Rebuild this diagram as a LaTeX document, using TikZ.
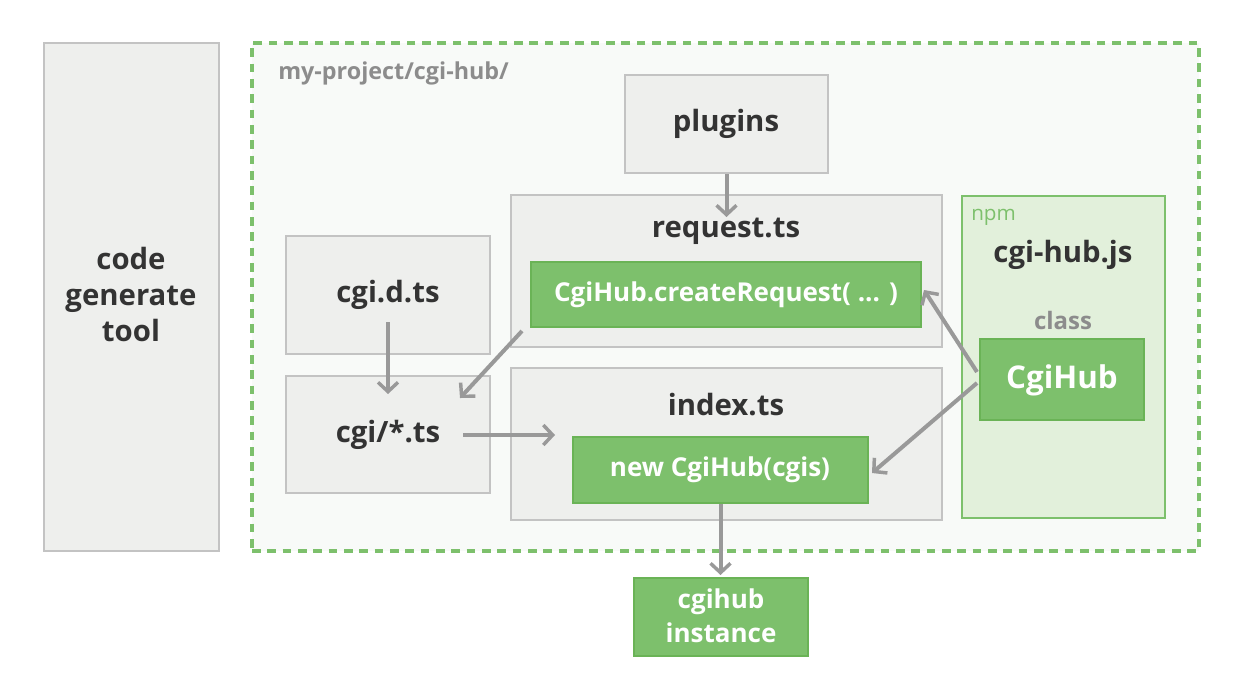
\documentclass[tikz,border=0pt]{standalone}
\usepackage{fontspec}
\setmainfont{Open Sans}
\usetikzlibrary{arrows.meta,fit,calc}
\definecolor{gfill}{HTML}{EEEFED}
\definecolor{gline}{HTML}{C3C3C3}
\definecolor{grn}{HTML}{7DC06C}
\definecolor{grnline}{HTML}{6AB356}
\definecolor{npmfill}{HTML}{E2F0DB}
\definecolor{outerfill}{HTML}{F8FAF8}
\definecolor{txt}{HTML}{333333}
\definecolor{arr}{HTML}{999999}
\definecolor{lbl}{HTML}{8C8C8C}
\tikzset{
  graybox/.style={draw=gline, fill=gfill, line width=1.5pt, inner sep=0pt},
  greenbox/.style={draw=grnline, fill=grn, line width=1.5pt, inner sep=0pt},
  gtxt/.style={text=txt, font=\bfseries\fontsize{22}{27}\selectfont, align=center, inner sep=0pt},
  wtxt/.style={text=white, font=\bfseries\fontsize{19.5}{25.5}\selectfont, align=center, inner sep=0pt},
  conn/.style={draw=arr, line width=3pt, -{Straight Barb[length=7pt,width=15pt,line width=2.6pt]}}
}
\begin{document}
\begin{tikzpicture}[x=0.75pt,y=-0.75pt]
\useasboundingbox (0,0) rectangle (1252,692);
\fill[white] (0,0) rectangle (1252,692);
% left box
\node[graybox, fit={(44,43)(219,551)}] (tool) {};
\node[gtxt] (toolt) at (131,294) {code\\generate\\tool};
% outer dashed
\node[draw=grn, fill=outerfill, line width=3pt, dash pattern=on 6.5pt off 5pt, inner sep=0pt, fit={(252,43)(1199,551)}] (proj) {};
\node[anchor=west, text=lbl, font=\bfseries\fontsize{17.5}{20}\selectfont, inner sep=0pt] (projlbl) at (278,73) {my-project/cgi-hub/};
% plugins
\node[graybox, fit={(625,75)(828,173)}] (plugins) {};
\node[gtxt] (pluginst) at (726,124) {plugins};
% request.ts
\node[graybox, fit={(511,195)(942,347)}] (req) {};
\node[gtxt] (reqt) at (726,231) {request.ts};
\node[greenbox, fit={(531,262)(921,327)}] (creq) {};
\node[wtxt] (creqt) at (726,295) {CgiHub.createRequest( ... )};
% cgi.d.ts and cgi/*.ts
\node[graybox, fit={(286,236)(490,354)}] (cgid) {};
\node[gtxt] (cgidt) at (388,295) {cgi.d.ts};
\node[graybox, fit={(286,376)(490,493)}] (cgis) {};
\node[gtxt] (cgist) at (388,435) {cgi/*.ts};
% index.ts
\node[graybox, fit={(511,368)(942,520)}] (idx) {};
\node[gtxt] (idxt) at (726,405) {index.ts};
\node[greenbox, fit={(573,437)(868,503)}] (newhub) {};
\node[wtxt] (newhubt) at (720,470) {new CgiHub(cgis)};
% npm
\node[draw=grn, fill=npmfill, line width=2.2pt, inner sep=0pt, fit={(962,196)(1165,518)}] (npm) {};
\node[anchor=west, text=grn, font=\fontsize{15.5}{18}\selectfont, inner sep=0pt] (npmlbl) at (971,217) {npm};
\node[gtxt] (hubjs) at (1063,255) {cgi-hub.js};
\node[text=lbl, font=\bfseries\fontsize{18}{21}\selectfont, inner sep=0pt] (cls) at (1063,320) {class};
\node[greenbox, fit={(980,339)(1144,420)}] (hub) {};
\node[wtxt, font=\bfseries\fontsize{23.5}{28}\selectfont] (hubt) at (1062,380) {CgiHub};
% instance
\node[greenbox, fit={(634,578)(808,656)}] (inst) {};
\node[wtxt] (instt) at (721,616) {cgihub\\instance};
% connectors
\draw[conn] (plugins.south) -- ($(plugins.south)+(0,43)$) coordinate (pe);
\coordinate (a1) at (388,322);
\coordinate (a2) at (388,394);
\draw[conn] (a1) -- (a2);
\coordinate (b1) at (522,331);
\coordinate (b2) at (460,398);
\draw[conn] (b1) -- (b2);
\coordinate (c1) at (463,435);
\coordinate (c2) at (555,435);
\draw[conn] (c1) -- (c2);
\coordinate (d1) at (977,372);
\coordinate (d2) at (924,290);
\draw[conn] (d1) -- (d2);
\coordinate (e1) at (977,383);
\coordinate (e2) at (872,473);
\draw[conn] (e1) -- (e2);
\draw[conn] (newhub.south) -- ($(newhub.south)+(0,71)$);
\end{tikzpicture}
\end{document}
